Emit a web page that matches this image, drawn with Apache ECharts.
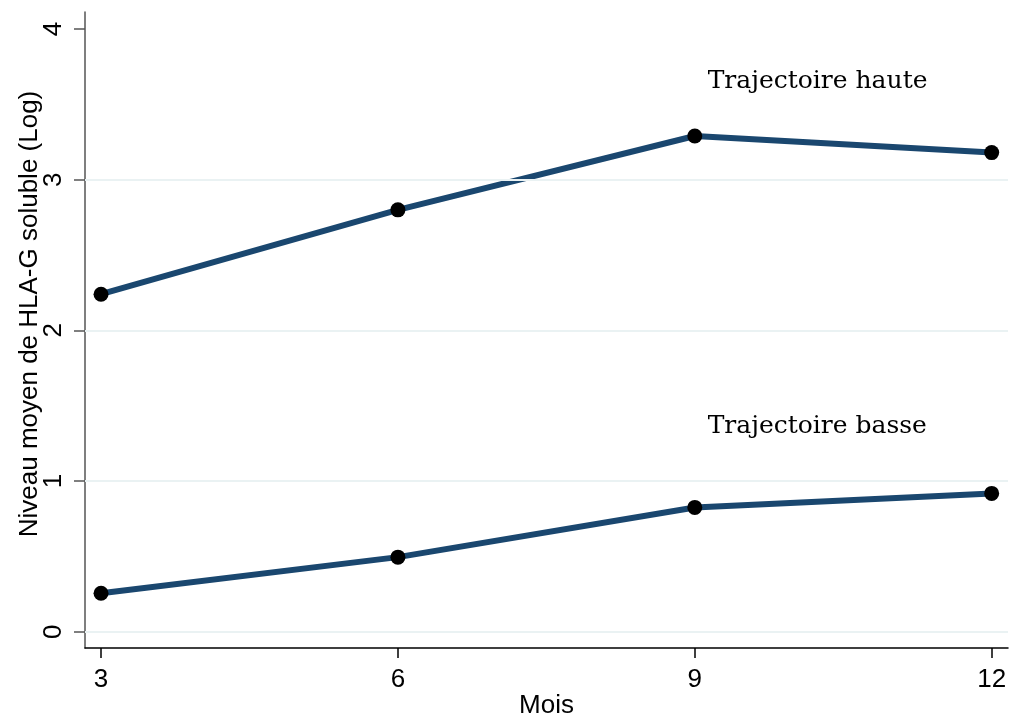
<!DOCTYPE html>
<html>
<head>
<meta charset="utf-8">
<script src="https://cdn.jsdelivr.net/npm/echarts@6/dist/echarts.min.js"></script>
<style>
html,body{margin:0;padding:0;background:#fff;}
#chart{width:1011px;height:717px;}
</style>
</head>
<body>
<div id="chart"></div>
<script>
var mois = [3, 6, 9, 12];
var haute = [2.24, 2.80, 3.29, 3.18];
var basse = [0.255, 0.495, 0.825, 0.918];
var yTicks = [0, 1, 2, 3, 4];
var yGrid = [0, 1, 2, 3];
var xTicks = [3, 6, 9, 12];
var annotations = [
  {x: 9.13, y: 3.654, text: 'Trajectoire haute'},
  {x: 9.13, y: 1.365, text: 'Trajectoire basse'}
];

var lineColor = '#1a476f';
function pairs(ys){ return mois.map(function(m,i){ return [m, ys[i]]; }); }

var chart = echarts.init(document.getElementById('chart'), null, {renderer:'canvas'});
chart.setOption({
  backgroundColor: '#ffffff',
  animation: false,
  grid: {left: 85, right: 3, top: 12, bottom: 69, containLabel: false, outerBoundsMode: 'none'},
  xAxis: {
    type: 'value',
    min: 2.838, max: 12.165,
    name: 'Mois',
    nameLocation: 'middle',
    nameGap: 45,
    nameMoveOverlap: false,
    nameTextStyle: {fontFamily: 'Liberation Sans', fontSize: 26, color: '#000'},
    axisLine: {show: true, onZero: false, lineStyle: {color: '#000', width: 1.5}},
    axisTick: {show: true, length: 10, lineStyle: {color: '#000', width: 1.5}, customValues: xTicks},
    axisLabel: {show: true, margin: 19, fontFamily: 'Liberation Sans', fontSize: 26, color: '#000', customValues: xTicks},
    splitLine: {show: false}
  },
  yAxis: {
    type: 'value',
    min: -0.108, max: 4.113,
    name: 'Niveau moyen de HLA-G soluble (Log)',
    nameLocation: 'middle',
    nameRotate: 90,
    nameGap: 42,
    nameMoveOverlap: false,
    nameTextStyle: {fontFamily: 'Liberation Sans', fontSize: 26, color: '#000', padding: [0, 0, 0, 32]},
    axisLine: {show: true, onZero: false, lineStyle: {color: '#555', width: 1.5}},
    axisTick: {show: true, length: 11, lineStyle: {color: '#555', width: 1.5}, customValues: yTicks},
    axisLabel: {show: true, rotate: 90, margin: 18, fontFamily: 'Liberation Sans', fontSize: 26, color: '#000', customValues: yTicks},
    splitLine: {show: false}
  },
  series: [
    {
      type: 'line',
      name: 'grid',
      data: [],
      silent: true,
      markLine: {
        silent: true,
        symbol: 'none',
        label: {show: false},
        lineStyle: {color: '#eaf2f3', width: 2, type: 'solid'},
        data: yGrid.map(function(v){ return {yAxis: v}; })
      }
    },
    {
      type: 'line',
      name: 'Trajectoire haute',
      data: pairs(haute),
      lineStyle: {color: lineColor, width: 6},
      symbol: 'circle',
      symbolSize: 15,
      itemStyle: {color: '#000'},
      z: 3
    },
    {
      type: 'line',
      name: 'Trajectoire basse',
      data: pairs(basse),
      lineStyle: {color: lineColor, width: 6},
      symbol: 'circle',
      symbolSize: 15,
      itemStyle: {color: '#000'},
      z: 3
    },
    {
      type: 'scatter',
      name: 'labels',
      symbolSize: 0,
      silent: true,
      data: annotations.map(function(a){ return {value: [a.x, a.y], name: a.text}; }),
      label: {
        show: true,
        position: [0, 0],
        align: 'left',
        verticalAlign: 'middle',
        formatter: function(p){ return p.name; },
        fontFamily: 'DejaVu Serif',
        fontSize: 25,
        color: '#000',
        opacity: 1
      },
      itemStyle: {opacity: 1}
    }
  ]
});
</script>
</body>
</html>
